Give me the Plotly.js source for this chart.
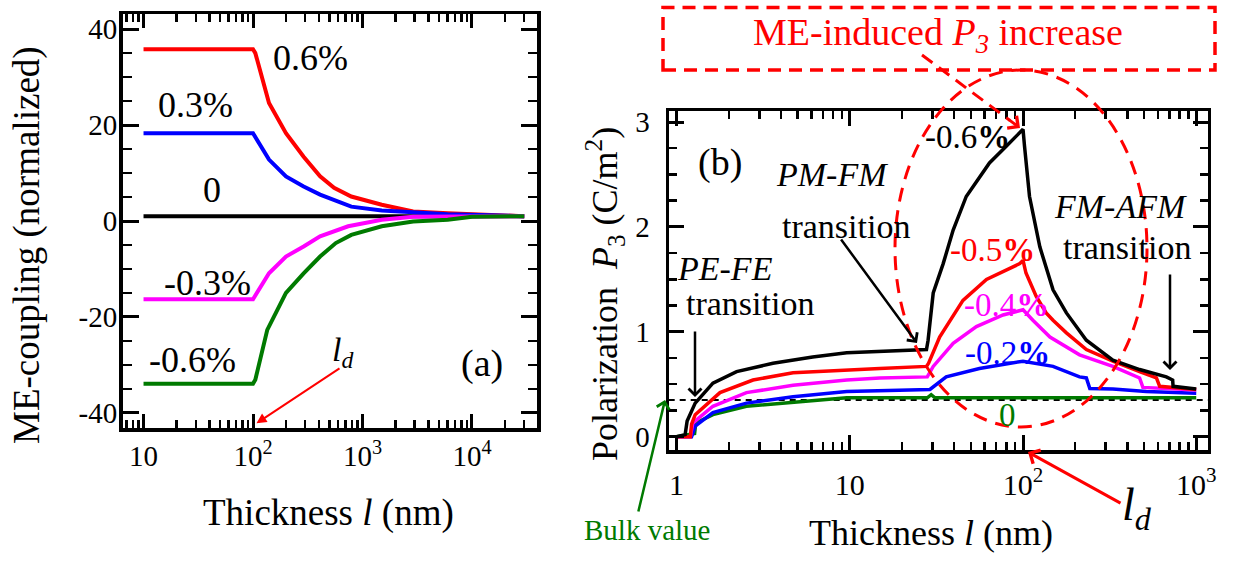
<!DOCTYPE html>
<html>
<head>
<meta charset="utf-8">
<script src="https://cdn.plot.ly/plotly-3.0.1.min.js"></script>
<style>html,body{margin:0;padding:0;background:#fff;}#chart{width:1235px;height:561px;}</style>
</head>
<body>
<div id="chart"></div>
<script>
// ---------- Panel (a): ME-coupling (normalized) vs thickness ----------
const aX_p06 = [10, 100, 105, 140, 200, 290, 410, 550, 790, 1500, 2900, 6000, 30000];
const aY_p06 = [35.8, 35.8, 35.0, 24.6, 18.3, 13.4, 9.3, 6.9, 5.1, 3.4, 2.0, 1.6, 1.0];
const aX_p03 = [10, 100, 140, 200, 290, 410, 790, 1500, 2900, 6000, 30000];
const aY_p03 = [18.3, 18.3, 12.8, 9.3, 7.2, 5.5, 3.0, 2.2, 1.8, 1.4, 1.0];
const aX_0 = [10, 30000];
const aY_0 = [1.0, 1.0];
const aX_m03 = [10, 100, 140, 200, 290, 410, 740, 1500, 2900, 30000];
const aY_m03 = [-16.3, -16.3, -10.9, -7.4, -5.3, -3.2, -1.1, 0.25, 0.9, 1.0];
const aX_m06 = [10, 100, 105, 135, 200, 290, 410, 570, 790, 1500, 2900, 6000, 10000, 30000];
const aY_m06 = [-33.9, -33.9, -33.1, -22.7, -15.0, -10.9, -7.4, -4.6, -2.9, -1.1, -0.1, 0.25, 0.9, 1.0];
const aXTickVals = [10, 100, 1000, 10000];
const aXTickText = ['10', '10<sup>2</sup>', '10<sup>3</sup>', '10<sup>4</sup>'];
const aYTickVals = [-40, -20, 0, 20, 40];
const aYTickText = ['-40', '-20', '0', '20', '40'];

// ---------- Panel (b): Polarization P3 vs thickness ----------
const bX_m06 = [1, 1.12, 1.15, 1.28, 1.62, 2.22, 3.6, 6.1, 9.6, 15, 22, 27.7, 28.3, 30.3, 34.6, 39.5, 47, 64, 80, 100, 102, 109, 125, 149, 178, 232, 330, 471, 672, 731, 735, 1000];
const bY_m06 = [0, 0.02, 0.15, 0.32, 0.51, 0.62, 0.70, 0.76, 0.80, 0.81, 0.82, 0.83, 0.92, 1.37, 1.65, 1.97, 2.29, 2.61, 2.77, 2.93, 2.77, 2.29, 1.81, 1.40, 1.18, 0.92, 0.73, 0.64, 0.57, 0.54, 0.48, 0.455];
const bX_m05 = [1, 1.2, 1.22, 1.28, 1.78, 2.76, 4.7, 9.6, 14.9, 27.7, 28.5, 33, 45, 61.5, 95.8, 100, 104, 119, 136, 149, 178, 232, 330, 471, 589, 615, 1000];
const bY_m05 = [0, 0, 0.12, 0.21, 0.42, 0.54, 0.61, 0.63, 0.65, 0.67, 0.70, 0.95, 1.30, 1.50, 1.65, 1.68, 1.56, 1.34, 1.18, 1.11, 0.99, 0.83, 0.72, 0.62, 0.56, 0.48, 0.45];
const bX_m04 = [1, 1.2, 1.24, 1.62, 2.53, 4.7, 9.6, 14.9, 28, 30.3, 39.5, 53.8, 76.7, 100, 114, 143, 212, 330, 471, 492, 1000];
const bY_m04 = [0, 0, 0.13, 0.29, 0.42, 0.49, 0.54, 0.56, 0.57, 0.67, 0.89, 1.05, 1.16, 1.21, 1.11, 0.95, 0.78, 0.67, 0.56, 0.47, 0.445];
const bX_m02 = [1, 1.22, 1.28, 1.62, 2.53, 4.7, 9.6, 22, 29, 36, 56, 100, 149, 212, 232, 243, 330, 515, 1000];
const bY_m02 = [0, 0, 0.10, 0.23, 0.32, 0.38, 0.43, 0.45, 0.45, 0.57, 0.65, 0.72, 0.67, 0.57, 0.56, 0.46, 0.455, 0.43, 0.415];
const bX_0 = [1, 1.27, 1.29, 1.62, 2.53, 4.7, 9.6, 22, 28, 29.5, 31, 100, 1000];
const bY_0 = [0, 0.03, 0.13, 0.21, 0.29, 0.33, 0.37, 0.37, 0.37, 0.40, 0.37, 0.37, 0.37];
const bulkX = [0.9, 1200];
const bulkY = [0.35, 0.35];
const bXTickVals = [1, 10, 100, 1000];
const bXTickText = ['1', '10', '10<sup>2</sup>', '10<sup>3</sup>'];
const bYTickVals = [0, 1, 2, 3];
const bYTickText = ['0', '1', '2', '3'];

// ---------- styling helpers ----------
const W = 1235, H = 561;
const px = x => x / W;
const py = y => 1 - y / H;
const SERIF = 'Liberation Serif';
const RED = '#ff0000', BLUE = '#0000ff', MAG = '#ff00ff', GREEN = '#007a00', BLACK = '#000000';

function minorLog(lo, hi) {
  const v = [];
  for (let d = lo; d < hi; d *= 10) for (let k = 2; k <= 9; k++) v.push(k * d);
  return v;
}

function line(x, y, color, width, xa, ya, dash) {
  return {x, y, xaxis: xa, yaxis: ya, type: 'scatter', mode: 'lines',
    line: {color, width, dash: dash || 'solid'}, hoverinfo: 'skip'};
}

const traces = [
  line(aX_0, aY_0, BLACK, 4, 'x', 'y'),
  line(aX_p06, aY_p06, RED, 4, 'x', 'y'),
  line(aX_p03, aY_p03, BLUE, 4, 'x', 'y'),
  line(aX_m03, aY_m03, MAG, 4, 'x', 'y'),
  line(aX_m06, aY_m06, GREEN, 4, 'x', 'y'),
  line(bulkX, bulkY, BLACK, 2, 'x2', 'y2', '6px,5px'),
  line(bX_0, bY_0, GREEN, 3.5, 'x2', 'y2'),
  line(bX_m02, bY_m02, BLUE, 3.5, 'x2', 'y2'),
  line(bX_m04, bY_m04, MAG, 3.5, 'x2', 'y2'),
  line(bX_m05, bY_m05, RED, 3.5, 'x2', 'y2'),
  line(bX_m06, bY_m06, BLACK, 3.5, 'x2', 'y2')
];

function axisBase(extra) {
  return Object.assign({
    showline: true, linewidth: 3.5, linecolor: BLACK, mirror: 'allticks',
    ticks: 'inside', tickwidth: 3, tickcolor: BLACK,
    showgrid: false, zeroline: false, fixedrange: true,
    tickfont: {family: SERIF, size: 29, color: BLACK}
  }, extra);
}

const layout = {
  width: W, height: H,
  margin: {l: 0, r: 0, t: 0, b: 0, pad: 0},
  paper_bgcolor: '#ffffff', plot_bgcolor: '#ffffff',
  font: {family: SERIF, color: BLACK},
  showlegend: false,
  xaxis: axisBase({type: 'log', domain: [px(122.5), px(537)], range: [0.808, 4.594], anchor: 'y',
    tickmode: 'array', tickvals: aXTickVals, ticktext: aXTickText, ticklen: 14, ticklabelstandoff: 0,
    minor: {tickmode: 'array', tickvals: minorLog(1, 100000), ticks: 'inside', ticklen: 8, tickwidth: 2.5, tickcolor: BLACK, showgrid: false}}),
  yaxis: axisBase({domain: [py(428), py(14)], range: [-43.15, 43.15], anchor: 'x',
    tickmode: 'array', tickvals: aYTickVals, ticktext: aYTickText, ticklen: 16, ticklabelstandoff: -4,
    minor: {tickmode: 'linear', tick0: 0, dtick: 5, ticks: 'inside', ticklen: 9, tickwidth: 2.5, tickcolor: BLACK, showgrid: false}}),
  xaxis2: axisBase({type: 'log', domain: [px(669), px(1207.5)], range: [-0.044, 3.065], anchor: 'y2',
    tickmode: 'array', tickvals: bXTickVals, ticktext: bXTickText, ticklen: 15, ticklabelstandoff: 5,
    tickfont: {family: SERIF, size: 30, color: BLACK},
    minor: {tickmode: 'array', tickvals: minorLog(1, 1000), ticks: 'inside', ticklen: 8, tickwidth: 2.5, tickcolor: BLACK, showgrid: false}}),
  yaxis2: axisBase({domain: [py(450), py(111)], range: [-0.127, 3.105], anchor: 'x2',
    tickmode: 'array', tickvals: bYTickVals, ticktext: bYTickText, ticklen: 15, ticklabelstandoff: 10,
    minor: {tickmode: 'linear', tick0: 0, dtick: 0.25, ticks: 'inside', ticklen: 8, tickwidth: 2.5, tickcolor: BLACK, showgrid: false}}),
  shapes: [
    {type: 'rect', xref: 'paper', yref: 'paper', x0: px(663), x1: px(1215), y0: py(70), y1: py(7.5),
     line: {color: RED, width: 3.5, dash: '13px,8px'}},
    {type: 'circle', xref: 'paper', yref: 'paper', x0: px(895), x1: px(1147), y0: py(427), y1: py(70),
     line: {color: RED, width: 3, dash: '14px,9px'}},
    {type: 'line', xref: 'paper', yref: 'paper', x0: px(922), y0: py(55), x1: px(1010), y1: py(120.5),
     line: {color: RED, width: 3, dash: '13px,8px'}}
  ],
  annotations: []
};

function txt(x, y, text, size, color, angle) {
  return {xref: 'paper', yref: 'paper', x: px(x), y: py(y), text, showarrow: false,
    xanchor: 'center', yanchor: 'middle', textangle: angle || 0,
    font: {family: SERIF, size, color: color || BLACK}};
}
function arrow(hx, hy, tx, ty, color, width, head) {
  return {xref: 'paper', yref: 'paper', x: px(hx), y: py(hy), ax: tx - hx, ay: ty - hy,
    axref: 'pixel', ayref: 'pixel', text: '', showarrow: true, arrowhead: head, arrowsize: 1,
    arrowwidth: width, arrowcolor: color, standoff: 0, startstandoff: 0};
}

layout.annotations.push(
  // panel (a)
  txt(27, 245, 'ME-coupling (normalized)', 37, BLACK, -90),
  txt(328, 513, 'Thickness <i>l</i> (nm)', 37),
  txt(310, 58, '0.6%', 36),
  txt(195, 105, '0.3%', 36),
  txt(212, 190, '0', 36),
  txt(207, 283, '-0.3%', 36),
  txt(192, 360, '-0.6%', 36),
  txt(342, 352, '<i>l<sub>d</sub></i>', 34),
  txt(482, 363, '(a)', 38),
  arrow(256.5, 423.3, 341, 367.3, RED, 2, 2),
  // panel (b)
  txt(605, 294, 'Polarization&nbsp; <i>P</i><sub>3</sub> (C/m<sup>2</sup>)', 36, BLACK, -90),
  txt(931, 533, 'Thickness <i>l</i> (nm)', 36),
  txt(720, 162, '(b)', 38),
  txt(832, 174, '<i>PM-FM</i>', 34),
  txt(846, 226, 'transition', 34),
  txt(725, 268, '<i>PE-FE</i>', 34),
  txt(750, 303, 'transition', 34),
  txt(1120, 207, '<i>FM-AFM</i>', 34),
  txt(1127, 247, 'transition', 34),
  arrow(695, 397, 695, 330, BLACK, 2.5, 4),
  arrow(917, 343, 840, 238, BLACK, 2.5, 4),
  arrow(1170, 370, 1170, 273, BLACK, 2.5, 4),
  txt(967, 137, '-0.6<b>%</b>', 33, BLACK),
  txt(992, 250, '-0.5<b>%</b>', 33, RED),
  txt(1006, 305, '-0.4<b>%</b>', 33, MAG),
  txt(1007, 353, '-0.2<b>%</b>', 33, BLUE),
  txt(1007, 415, '0', 33, GREEN),
  txt(938, 35, 'ME-induced <i>P<sub>3</sub></i> increase', 38, RED),
  arrow(1020, 128, 1008, 119, RED, 3, 4),
  txt(1137, 508, '<i>l<sub>d</sub></i>', 46),
  arrow(1028, 452, 1122, 504, RED, 3, 4),
  txt(647, 530, 'Bulk value', 29, GREEN),
  arrow(665, 400, 638, 513, GREEN, 2.5, 4)
);

Plotly.newPlot('chart', traces, layout, {staticPlot: true, displayModeBar: false});
</script>
</body>
</html>
